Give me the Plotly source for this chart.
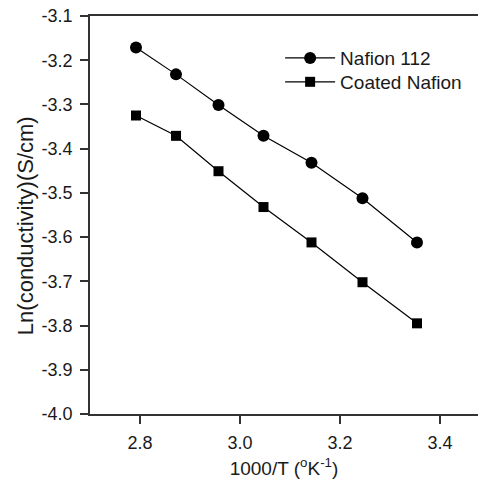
import plotly.graph_objects as go

inv_T = [2.792, 2.872, 2.957, 3.047, 3.143, 3.245, 3.354]
nafion_112 = [-3.171, -3.232, -3.301, -3.371, -3.432, -3.512, -3.612]
coated_nafion = [-3.325, -3.371, -3.451, -3.532, -3.612, -3.702, -3.795]

y_ticks = [-4.0, -3.9, -3.8, -3.7, -3.6, -3.5, -3.4, -3.3, -3.2, -3.1]
y_tick_labels = ["-4.0", "-3.9", "-3.8", "-3.7", "-3.6", "-3.5", "-3.4", "-3.3", "-3.2", "-3.1"]
x_ticks = [2.8, 3.0, 3.2, 3.4]
x_tick_labels = ["2.8", "3.0", "3.2", "3.4"]

FONT = "Liberation Sans, Arial, Helvetica, sans-serif"
INK = "#1a1a1a"

fig = go.Figure()
fig.add_trace(go.Scatter(
    x=inv_T, y=nafion_112, mode="lines+markers", name="Nafion 112",
    line=dict(color="black", width=1.2),
    marker=dict(symbol="circle", size=12, color="black"),
    legend="legend",
))
fig.add_trace(go.Scatter(
    x=inv_T, y=coated_nafion, mode="lines+markers", name="Coated Nafion",
    line=dict(color="black", width=1.2),
    marker=dict(symbol="square", size=10, color="black"),
    legend="legend2",
))

axis_common = dict(
    showgrid=False, zeroline=False, showline=True, linecolor="#333",
    linewidth=1.5, ticks="outside", ticklen=8, tickwidth=1.5, tickcolor="#333",
    tickfont=dict(family=FONT, size=18, color=INK),
    automargin=False, ticklabeloverflow="allow",
)

fig.update_xaxes(
    range=[2.7, 3.476], tickvals=x_ticks, ticktext=x_tick_labels,
    mirror=True, ticklabelstandoff=4,
    title=dict(text="1000/T (<sup>o</sup>K<sup>-1</sup>)",
               font=dict(family=FONT, size=19, color=INK), standoff=9),
    **axis_common,
)
fig.update_yaxes(
    range=[-4.0, -3.1], tickvals=y_ticks, ticktext=y_tick_labels,
    ticklabelstandoff=4,
    **axis_common,
)

fig.add_annotation(
    text="Ln(conductivity)(S/cm)", textangle=-90,
    xref="paper", yref="paper", x=-0.1675, y=0.472,
    xanchor="center", yanchor="middle", showarrow=False,
    font=dict(family=FONT, size=22, color=INK),
)

legend_common = dict(
    xanchor="left", yanchor="top",
    font=dict(family=FONT, size=19, color=INK),
    bgcolor="rgba(0,0,0,0)", itemwidth=50,
)

fig.update_layout(
    width=478, height=479,
    margin=dict(l=90, r=0, t=16, b=65, autoexpand=False),
    paper_bgcolor="white", plot_bgcolor="white",
    showlegend=True,
    legend=dict(x=0.49, y=0.942, **legend_common),
    legend2=dict(x=0.49, y=0.882, **legend_common),
)

fig.write_html("out.html",
               config={"displayModeBar": False},
               post_script="document.body.style.margin='0';document.body.style.overflow='hidden';")
